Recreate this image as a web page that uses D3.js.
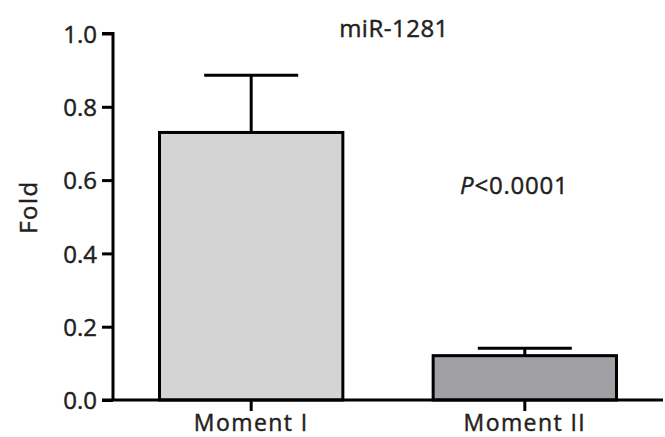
<!DOCTYPE html>
<html><head><meta charset="utf-8">
<script src="https://cdn.jsdelivr.net/npm/d3@7"></script>
<style>body{margin:0;background:#fff}svg{display:block}text{font-family:"Open Sans",sans-serif;fill:#231f20;stroke:#231f20;stroke-width:0.45px}</style>
</head><body>
<svg id="c" width="665" height="437"></svg>
<script>
const categories = ["Moment I", "Moment II"];
const means = [0.730, 0.121];
const errors = [0.156, 0.020];
const fills = ["#d4d4d4", "#a0a0a5"];
const yTicks = [0.0, 0.2, 0.4, 0.6, 0.8, 1.0];
const title = "miR-1281";
const yLabel = "Fold";

const svg = d3.select("#c");
const x = d3.scaleBand().domain(categories).range([113, 663]).paddingInner(0.33).paddingOuter(0.17);
const y = d3.scaleLinear().domain([0, 1]).range([400, 33.5]);

const ink = "#000";
// bars
svg.selectAll("rect.bar").data(categories).join("rect")
  .attr("x", d => x(d)).attr("y", (d,i) => y(means[i]))
  .attr("width", x.bandwidth()).attr("height", (d,i) => y(0) - y(means[i]))
  .attr("fill", (d,i) => fills[i]).attr("stroke", ink).attr("stroke-width", 3);

// error bars
const capW = 94;
categories.forEach((c,i) => {
  const cx = x(c) + x.bandwidth()/2;
  svg.append("line").attr("x1", cx).attr("x2", cx).attr("y1", y(means[i])).attr("y2", y(means[i]+errors[i]))
    .attr("stroke", ink).attr("stroke-width", 3);
  svg.append("line").attr("x1", cx-capW/2).attr("x2", cx+capW/2).attr("y1", y(means[i]+errors[i])).attr("y2", y(means[i]+errors[i]))
    .attr("stroke", ink).attr("stroke-width", 3);
});

// y axis
const ya = svg.append("g").attr("transform", "translate(113,0)")
  .call(d3.axisLeft(y).tickValues(yTicks).tickFormat(d3.format(".1f")).tickSize(11).tickPadding(5));
ya.select(".domain").attr("stroke", ink).attr("stroke-width", 3).attr("d", `M0,${y(0)}V${y(1)}H-11`);
ya.selectAll(".tick line").attr("stroke", ink).attr("stroke-width", 3);
ya.selectAll(".tick text").style("font-size", "24px").attr("fill", "#231f20").attr("dy", "0.36em");

// x axis
const xa = svg.append("g").attr("transform", `translate(0,${y(0)})`)
  .call(d3.axisBottom(x).tickSize(11).tickPadding(4));
xa.select(".domain").attr("stroke", ink).attr("stroke-width", 3).attr("d", `M102,0H663`);
xa.selectAll(".tick line").attr("stroke", ink).attr("stroke-width", 3);
xa.selectAll(".tick text").style("font-size", "23px").style("letter-spacing", "1.4px")
  .attr("fill", "#231f20").attr("y", 30.5).attr("dy", "0");

// title
svg.append("text").attr("x", 394).attr("y", 37).attr("text-anchor", "middle")
  .style("font-size", "24px").style("letter-spacing", "0.5px").text(title);
// p value
const pt = svg.append("text").attr("x", 460).attr("y", 194).style("font-size", "24px").style("letter-spacing", "0.8px");
pt.append("tspan").style("font-style", "italic").text("P");
pt.append("tspan").text("<0.0001");
// y label
svg.append("text").attr("transform", "translate(37,207) rotate(-90)").attr("text-anchor", "middle")
  .style("font-size", "24px").style("letter-spacing", "1.5px").text(yLabel);
</script>
</body></html>
